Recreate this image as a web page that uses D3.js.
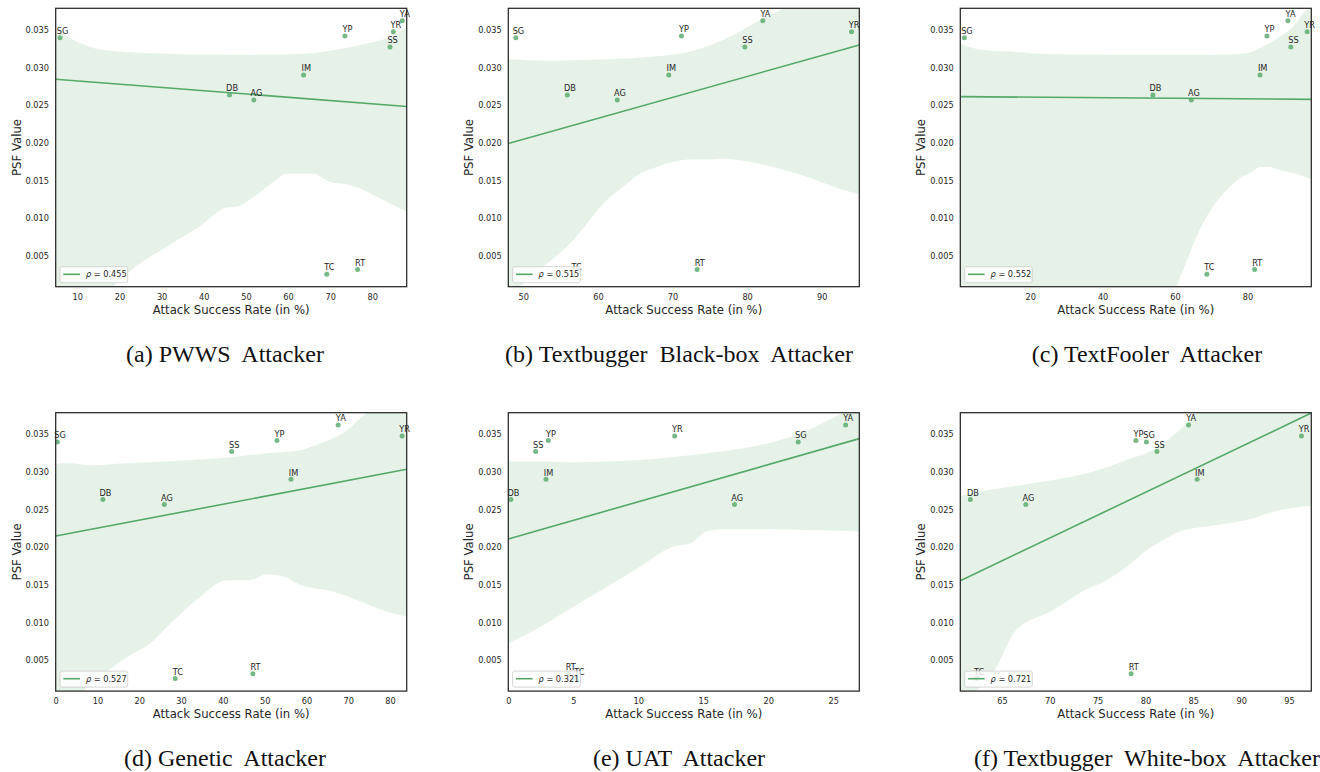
<!DOCTYPE html>
<html>
<head>
<meta charset="utf-8">
<script src="https://cdn.jsdelivr.net/npm/d3@7"></script>
<style>
  body { margin: 0; background: #fff; }
  text { font-family: "DejaVu Sans", sans-serif; }
  .caption { font-family: "Liberation Serif", "Times New Roman", serif; white-space: pre; }
</style>
</head>
<body>
<svg id="fig" width="1320" height="772"></svg>
<script>
// model names, same order in every array below
const labels = ["SG", "YP", "YA", "YR", "SS", "IM", "DB", "AG", "TC", "RT"];
// PSF value per model (shared by all six panels)
const psfValues = [0.03398, 0.03420, 0.03624, 0.03478, 0.03274, 0.02902, 0.02636, 0.02569, 0.00255, 0.00317];

// attack success rate (in %) per attacker
const asrPWWS       = [5.9, 73.5, 87.1, 85.0, 84.2, 63.7, 46.1, 51.9, 69.2, 76.5];
const asrBlackBox   = [49.0, 71.2, 82.1, 94.0, 79.7, 69.5, 55.9, 62.6, 56.8, 73.3];
const asrTextFooler = [1.8, 85.4, 91.2, 96.5, 92.0, 83.5, 53.9, 64.5, 68.8, 82.0];
const asrGenetic    = [0.4, 52.95, 67.6, 82.9, 42.1, 56.3, 11.3, 26.0, 28.6, 47.2];
const asrUAT        = [22.3, 3.08, 25.95, 12.8, 2.1, 2.9, 0.2, 17.4, 5.26, 4.6];
const asrWhiteBox   = [80.1, 79.0, 84.5, 96.3, 81.2, 85.4, 61.7, 67.5, 62.35, 78.5];

const captions = [
  "(a) PWWS  Attacker",
  "(b) Textbugger  Black-box  Attacker",
  "(c) TextFooler  Attacker",
  "(d) Genetic  Attacker",
  "(e) UAT  Attacker",
  "(f) Textbugger  White-box  Attacker"
];
const rhoLabels = ["0.455", "0.515", "0.552", "0.527", "0.321", "0.721"];

const xDomains = [[4.87, 88.16], [47.99, 95.04], [0.68, 97.66], [0, 84.0], [0, 27.0], [60.65, 97.33]];
const xTicks = [
  [10, 20, 30, 40, 50, 60, 70, 80],
  [50, 60, 70, 80, 90],
  [20, 40, 60, 80],
  [0, 10, 20, 30, 40, 50, 60, 70, 80],
  [0, 5, 10, 15, 20, 25],
  [65, 70, 75, 80, 85, 90, 95]
];
const yDomain = [0.00088, 0.03788];
const yTicks = [0.005, 0.010, 0.015, 0.020, 0.025, 0.030, 0.035];

// 95% confidence band: [x, PSF]
const ciHiPWWS = [[4.86,0.0351],[9.05,0.0337],[15.4,0.0324],[27.2,0.0319],[47.0,0.0317],[62.8,0.0318],[70.8,0.0323],[78.7,0.0332],[83.4,0.0339],[88.2,0.0354]];
const ciLoPWWS = [[4.86,-0.0075],[18.5,0.0009],[23.3,0.0033],[31.2,0.0062],[39.1,0.0089],[45.4,0.0114],[47.8,0.0115],[51.8,0.0128],[56.5,0.0148],[59.7,0.0159],[66.0,0.0159],[70.0,0.0148],[74.7,0.0144],[78.7,0.0135],[82.6,0.0124],[88.2,0.0108]];
const ciHiBlackBox = [[47.99,0.0311],[53.1,0.0309],[61.2,0.0311],[67.9,0.0315],[72.3,0.0321],[74.6,0.0328],[76.8,0.0337],[79.0,0.0348],[81.3,0.0361],[83.5,0.0372],[84.9,0.0379],[95.04,0.0434]];
const ciLoBlackBox = [[47.99,-0.0007],[49.55,0.0009],[52.2,0.0031],[56.7,0.0071],[61.2,0.0124],[63.4,0.0142],[65.6,0.0159],[67.9,0.0168],[70.1,0.0175],[72.3,0.0178],[74.6,0.0178],[76.8,0.0179],[79.0,0.0177],[81.3,0.0173],[83.5,0.0168],[88.0,0.0155],[92.4,0.0139],[95.04,0.0131]];
const ciHiTextFooler = [[0.68,0.0332],[6.1,0.0324],[15.3,0.0321],[24.5,0.0318],[42.9,0.0317],[70.5,0.0317],[79.7,0.0319],[84.3,0.0328],[88.9,0.0341],[93.5,0.0359],[95.3,0.0372],[97.66,0.0380]];
const ciLoTextFooler = [[0.68,-0.0275],[52.1,-0.0091],[60.4,0.0009],[64.1,0.0053],[66.8,0.0084],[70.5,0.0115],[74.2,0.0137],[77.9,0.0153],[81.5,0.0162],[83.4,0.0168],[86.1,0.0168],[88.9,0.0164],[93.5,0.0159],[97.66,0.0152]];
const ciHiGenetic = [[0,0.0311],[2.6,0.0312],[9.0,0.0309],[14.6,0.0311],[26.6,0.0314],[42.5,0.0320],[50.5,0.0325],[58.5,0.0329],[63.2,0.0338],[66.4,0.0345],[70.4,0.0358],[72.8,0.0371],[74.4,0.0378],[84.0,0.0418]];
const ciLoGenetic = [[0,-0.0025],[6.6,0.0009],[10.6,0.0028],[18.6,0.0059],[22.6,0.0072],[26.6,0.0094],[34.5,0.0134],[40.9,0.0156],[45.7,0.0156],[48.9,0.0161],[49.7,0.0164],[54.5,0.0161],[58.5,0.0150],[66.4,0.0141],[74.4,0.0125],[78.4,0.0116],[84.0,0.0108]];
const ciHiUAT = [[0,0.0314],[2.44,0.0314],[5.0,0.0313],[7.56,0.0314],[10.13,0.0316],[12.7,0.0320],[15.26,0.0325],[17.8,0.0331],[20.4,0.0340],[22.9,0.0354],[24.2,0.0365],[25.5,0.0376],[27.0,0.0387]];
const ciLoUAT = [[0,0.0072],[2.44,0.0094],[5.0,0.0121],[7.56,0.0147],[10.13,0.0174],[12.7,0.0201],[13.97,0.0205],[15.26,0.0221],[16.5,0.0224],[17.8,0.0224],[20.4,0.0224],[22.9,0.0223],[25.5,0.0222],[27.0,0.0221]];
const ciHiWhiteBox = [[60.65,0.0268],[62.7,0.0274],[66.2,0.0281],[69.7,0.0288],[73.1,0.0296],[76.6,0.0309],[78.4,0.0318],[80.1,0.0325],[81.8,0.0338],[83.6,0.0356],[84.6,0.0369],[85.3,0.0378],[97.33,0.0484]];
const ciLoWhiteBox = [[60.65,-0.0017],[62.35,0.0009],[64.44,0.0041],[66.18,0.0085],[67.9,0.0103],[69.7,0.0112],[71.4,0.0125],[73.1,0.0139],[76.6,0.0161],[78.4,0.0178],[80.1,0.0196],[81.8,0.0209],[83.6,0.0221],[87.1,0.0229],[90.5,0.0236],[94.0,0.0249],[97.33,0.0255]];

const asrAll = [asrPWWS, asrBlackBox, asrTextFooler, asrGenetic, asrUAT, asrWhiteBox];
const ciHiAll = [ciHiPWWS, ciHiBlackBox, ciHiTextFooler, ciHiGenetic, ciHiUAT, ciHiWhiteBox];
const ciLoAll = [ciLoPWWS, ciLoBlackBox, ciLoTextFooler, ciLoGenetic, ciLoUAT, ciLoWhiteBox];

const GREEN = "#55a868";
const INK = "#262626";
const axW = 351, axH = 278.4;
const colLeft = [55.7, 508.3, 960.3];
const rowTop = [8.3, 412.7];
const captionX = [225, 679, 1147];
const captionY = [361.7, 766];

const svg = d3.select("#fig");

// ordinary least squares fit, like seaborn's regplot line
const fit = (xs, ys) => {
  const mx = d3.mean(xs), my = d3.mean(ys);
  const sxy = d3.sum(xs, (v, i) => (v - mx) * (ys[i] - my));
  const sxx = d3.sum(xs, (v) => (v - mx) * (v - mx));
  const slope = sxy / sxx;
  return (v) => my + slope * (v - mx);
};

asrAll.forEach((asr, i) => {
  const left = colLeft[i % 3], top = rowTop[Math.floor(i / 3)];
  const g = svg.append("g").attr("transform", `translate(${left},${top})`);

  const x = d3.scaleLinear().domain(xDomains[i]).range([0, axW]);
  const y = d3.scaleLinear().domain(yDomain).range([axH, 0]);

  g.append("clipPath").attr("id", "clip" + i)
    .append("rect").attr("width", axW).attr("height", axH);
  const plot = g.append("g").attr("clip-path", `url(#clip${i})`);

  // confidence band
  const edge = d3.line().x((d) => x(d[0])).y((d) => y(d[1])).curve(d3.curveMonotoneX);
  const band = edge(ciHiAll[i]) + edge(ciLoAll[i].slice().reverse()).replace(/^M/, "L") + "Z";
  plot.append("path").attr("d", band).attr("fill", GREEN).attr("fill-opacity", 0.15);

  // regression line across the whole axis
  const f = fit(asr, psfValues);
  const [x0, x1] = xDomains[i];
  plot.append("line")
    .attr("x1", x(x0)).attr("y1", y(f(x0)))
    .attr("x2", x(x1)).attr("y2", y(f(x1)))
    .attr("stroke", GREEN).attr("stroke-width", 1.6);

  const pts = asr.map((v, k) => ({ x: v, y: psfValues[k], label: labels[k] }));

  plot.selectAll("circle").data(pts).join("circle")
    .attr("cx", (d) => x(d.x)).attr("cy", (d) => y(d.y))
    .attr("r", 2.5).attr("fill", GREEN).attr("fill-opacity", 0.8);

  // axes
  const ya = g.append("g")
    .call(d3.axisLeft(y).tickValues(yTicks).tickFormat(d3.format(".3f")).tickSize(0).tickPadding(6.7));
  const xa = g.append("g").attr("transform", `translate(0,${axH})`)
    .call(d3.axisBottom(x).tickValues(xTicks[i]).tickFormat(d3.format("d")).tickSize(0).tickPadding(7.4));
  [ya, xa].forEach((a) => {
    a.select(".domain").remove();
    a.selectAll("text").attr("fill", INK).style("font-size", "8.2px").style("font-family", "DejaVu Sans");
  });

  g.append("rect").attr("width", axW).attr("height", axH)
    .attr("fill", "none").attr("stroke", INK).attr("stroke-width", 1.25);

  // point labels
  g.selectAll("text.pt").data(pts).join("text").attr("class", "pt")
    .attr("x", (d) => x(d.x) + 2.6).attr("y", (d) => y(d.y) - 3.7)
    .attr("text-anchor", "middle").attr("fill", INK)
    .style("font-size", "8.2px")
    .text((d) => d.label);

  g.append("text")
    .attr("transform", `translate(-39,${axH / 2}) rotate(-90)`)
    .attr("text-anchor", "middle").attr("dominant-baseline", "central")
    .attr("fill", INK).style("font-size", "11.7px")
    .text("PSF Value");
  g.append("text")
    .attr("x", axW / 2).attr("y", axH + 23.3)
    .attr("text-anchor", "middle").attr("dominant-baseline", "central")
    .attr("fill", INK).style("font-size", "11.7px")
    .text("Attack Success Rate (in %)");

  // legend
  const lg = g.append("g").attr("transform", `translate(4.3,${axH - 20})`);
  lg.append("rect").attr("width", 67.7).attr("height", 16).attr("rx", 2)
    .attr("fill", "#fff").attr("fill-opacity", 0.8)
    .attr("stroke", "#cccccc").attr("stroke-width", 0.8);
  lg.append("line").attr("x1", 3.3).attr("x2", 20).attr("y1", 7.6).attr("y2", 7.6)
    .attr("stroke", GREEN).attr("stroke-width", 1.6);
  const lt = lg.append("text").attr("x", 26).attr("y", 7.6)
    .attr("dominant-baseline", "central").attr("fill", INK).style("font-size", "8.2px");
  lt.append("tspan").style("font-style", "italic").text("\u03c1");
  lt.append("tspan").text(" = " + rhoLabels[i]);

  svg.append("text").attr("class", "caption")
    .attr("x", captionX[i % 3]).attr("y", captionY[Math.floor(i / 3)])
    .attr("text-anchor", "middle").attr("fill", "#111")
    .style("font-size", "24px")
    .text(captions[i]);
});
</script>
</body>
</html>
